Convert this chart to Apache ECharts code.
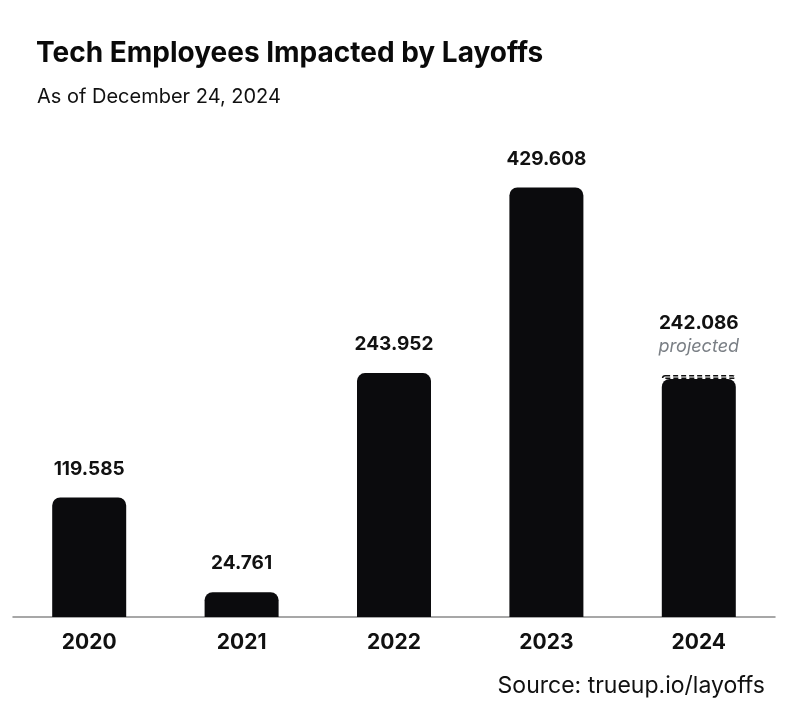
<!DOCTYPE html>
<html>
<head>
<meta charset="utf-8">
<script src="https://cdn.jsdelivr.net/npm/echarts@6/dist/echarts.min.js"></script>
<style>
html,body{margin:0;padding:0;background:#fff;}
#c{width:800px;height:713px;}
</style>
</head>
<body>
<div id="c"></div>
<script>
const categories = ['2020', '2021', '2022', '2023', '2024'];
const totals = [119.585, 24.761, 243.952, 429.608, 242.086];
const actual = [119.585, 24.761, 243.952, 429.608, 238.0];
const projectedExtra = ['-', '-', '-', '-', 4.086];
const projectedFlag = [false, false, false, false, true];

const chart = echarts.init(document.getElementById('c'));
const fmt = v => v.toFixed(3);

const actualData = actual.map((v, i) => ({
  value: v,
  label: { show: !projectedFlag[i] }
}));
const extraData = projectedExtra.map((v, i) => ({
  value: v,
  label: { show: projectedFlag[i] }
}));

chart.setOption({
  backgroundColor: '#ffffff',
  textStyle: { fontFamily: 'Inter' },
  title: [
    { text: 'Tech Employees Impacted by Layoffs', left: 31, top: 35,
      textStyle: { fontFamily: 'Inter', fontSize: 28, fontWeight: 'bold', color: '#0a0a0a' } },
    { text: 'As of December 24, 2024', left: 32, top: 82,
      textStyle: { fontFamily: 'Inter', fontSize: 20, fontWeight: 'normal', color: '#111' } },
    { text: 'Source: trueup.io/layoffs', right: 30, top: 670,
      textStyle: { fontFamily: 'Inter', fontSize: 23, fontWeight: 'normal', color: '#111' } }
  ],
  grid: { left: 13, right: 25, top: 117, bottom: 96 },
  xAxis: {
    type: 'category',
    data: categories,
    axisLine: { lineStyle: { color: '#8a8a8a', width: 1.5 } },
    axisTick: { show: false },
    axisLabel: { fontFamily: 'Inter', fontSize: 21, fontWeight: 'bold', color: '#111', margin: 15 }
  },
  yAxis: {
    type: 'value', min: 0, max: 500, show: false,
    splitLine: { show: false }
  },
  series: [
    {
      type: 'bar', stack: 's', barWidth: 74,
      data: actualData,
      itemStyle: { color: '#0b0b0d', borderRadius: [8, 8, 0, 0] },
      label: {
        position: 'top', distance: 19,
        fontFamily: 'Inter', fontSize: 19, fontWeight: 'bold', color: '#111',
        formatter: p => fmt(totals[p.dataIndex])
      }
    },
    {
      type: 'bar', stack: 's', barWidth: 74,
      data: extraData,
      itemStyle: { color: 'rgba(0,0,0,0)', borderColor: '#111', borderWidth: 1.5, borderType: [5, 3], borderRadius: [6, 6, 0, 0] },
      label: {
        position: 'top', distance: 16,
        formatter: p => '{v|' + fmt(totals[p.dataIndex]) + '}\n{p|projected}',
        rich: {
          v: { fontFamily: 'Inter', fontSize: 19, fontWeight: 'bold', color: '#111', lineHeight: 24, align: 'center' },
          p: { fontFamily: 'Inter', fontSize: 18, fontStyle: 'italic', color: '#7a7f85', lineHeight: 24, align: 'center' }
        }
      }
    }
  ]
});
</script>
</body>
</html>
